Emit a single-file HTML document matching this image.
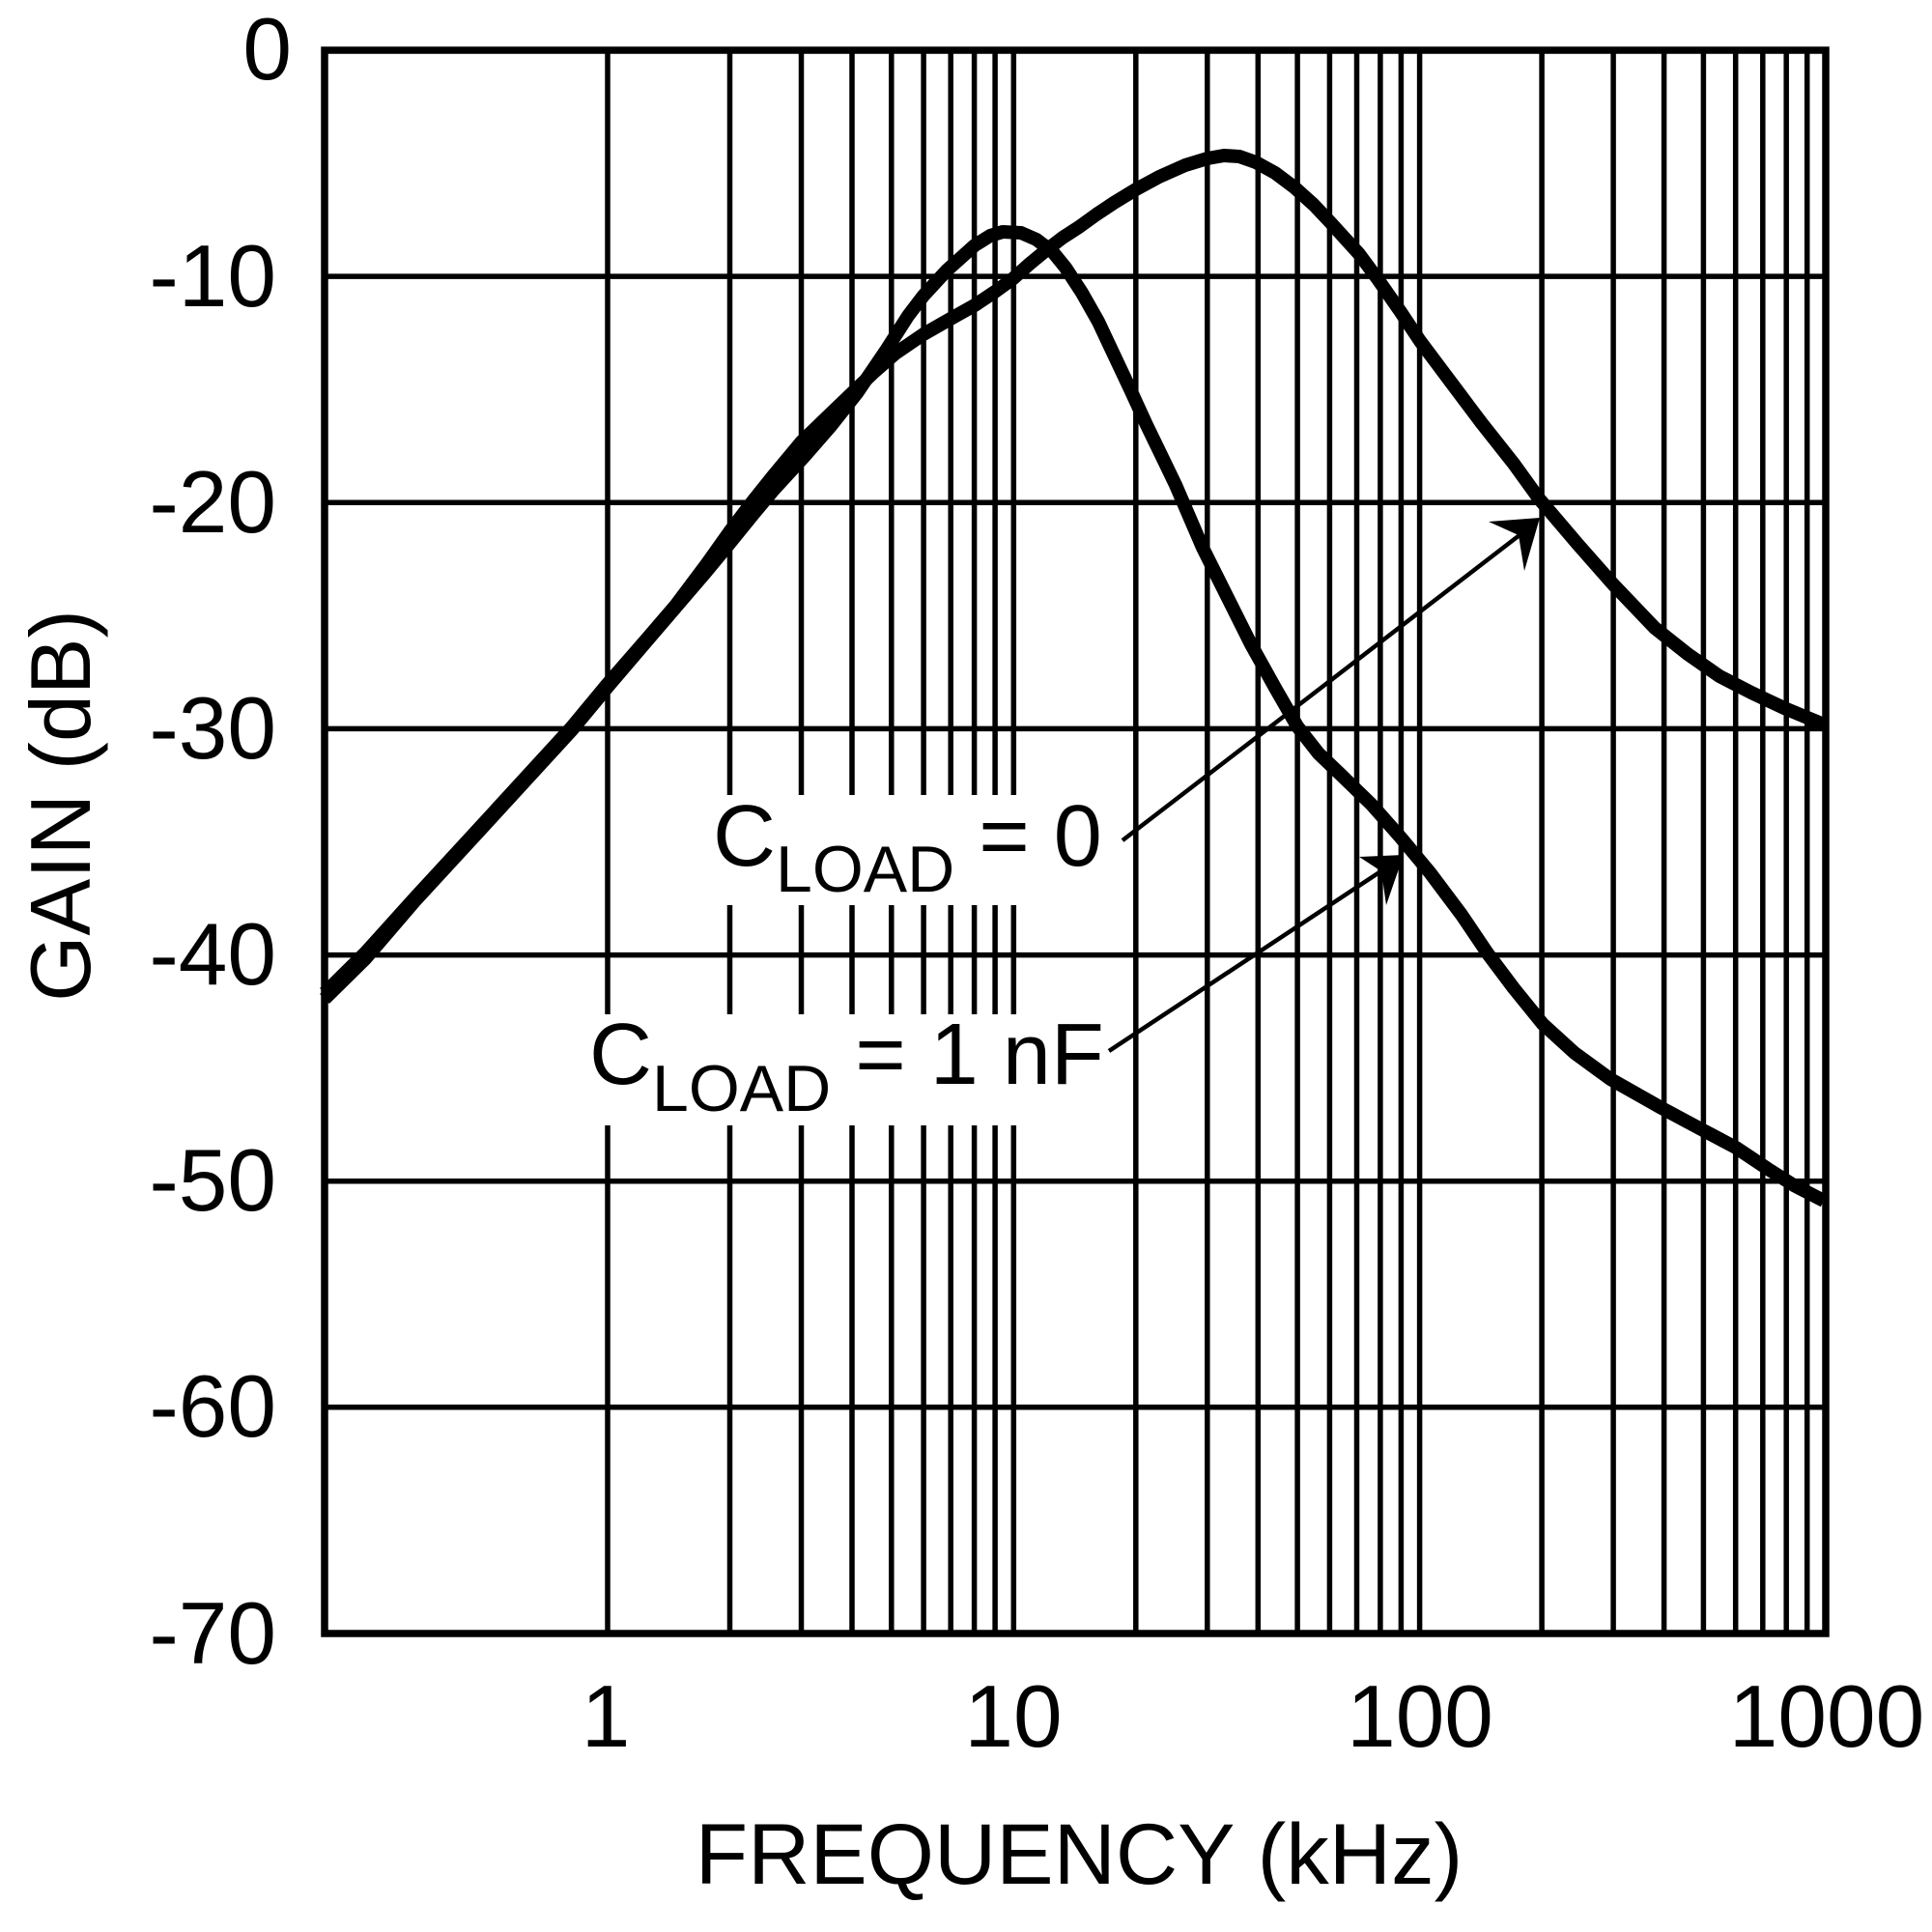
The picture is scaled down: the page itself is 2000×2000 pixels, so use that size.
<!DOCTYPE html>
<html>
<head>
<meta charset="utf-8">
<style>
  html, body { margin: 0; padding: 0; background: #fff; }
  svg { display: block; }
  text { font-family: "Liberation Sans", Arial, sans-serif; fill: #000; }
</style>
</head>
<body>
<svg width="2000" height="2000" viewBox="0 0 2000 2000" xmlns="http://www.w3.org/2000/svg">
  <rect x="0" y="0" width="2000" height="2000" fill="#fff"/>

  <!-- vertical grid lines -->
  <g stroke="#000" stroke-width="5.5">
    <line x1="629" y1="52" x2="629" y2="1691"/>
    <line x1="755.5" y1="52" x2="755.5" y2="1691"/>
    <line x1="829.5" y1="52" x2="829.5" y2="1691"/>
    <line x1="882" y1="52" x2="882" y2="1691"/>
    <line x1="922.8" y1="52" x2="922.8" y2="1691"/>
    <line x1="956.1" y1="52" x2="956.1" y2="1691"/>
    <line x1="984.2" y1="52" x2="984.2" y2="1691"/>
    <line x1="1008.6" y1="52" x2="1008.6" y2="1691"/>
    <line x1="1030.1" y1="52" x2="1030.1" y2="1691"/>
    <line x1="1049.3" y1="52" x2="1049.3" y2="1691"/>
    <line x1="1175.8" y1="52" x2="1175.8" y2="1691"/>
    <line x1="1249.8" y1="52" x2="1249.8" y2="1691"/>
    <line x1="1302.3" y1="52" x2="1302.3" y2="1691"/>
    <line x1="1343.1" y1="52" x2="1343.1" y2="1691"/>
    <line x1="1376.4" y1="52" x2="1376.4" y2="1691"/>
    <line x1="1404.5" y1="52" x2="1404.5" y2="1691"/>
    <line x1="1428.9" y1="52" x2="1428.9" y2="1691"/>
    <line x1="1450.4" y1="52" x2="1450.4" y2="1691"/>
    <line x1="1469.6" y1="52" x2="1469.6" y2="1691"/>
    <line x1="1596.1" y1="52" x2="1596.1" y2="1691"/>
    <line x1="1670.1" y1="52" x2="1670.1" y2="1691"/>
    <line x1="1722.6" y1="52" x2="1722.6" y2="1691"/>
    <line x1="1763.4" y1="52" x2="1763.4" y2="1691"/>
    <line x1="1796.7" y1="52" x2="1796.7" y2="1691"/>
    <line x1="1824.8" y1="52" x2="1824.8" y2="1691"/>
    <line x1="1849.2" y1="52" x2="1849.2" y2="1691"/>
    <line x1="1870.7" y1="52" x2="1870.7" y2="1691"/>
  </g>

  <!-- horizontal grid lines -->
  <g stroke="#000" stroke-width="5.5">
    <line x1="336" y1="286.1" x2="1890" y2="286.1"/>
    <line x1="336" y1="520.3" x2="1890" y2="520.3"/>
    <line x1="336" y1="754.4" x2="1890" y2="754.4"/>
    <line x1="336" y1="988.6" x2="1890" y2="988.6"/>
    <line x1="336" y1="1222.7" x2="1890" y2="1222.7"/>
    <line x1="336" y1="1456.8" x2="1890" y2="1456.8"/>
  </g>

  <!-- frame -->
  <rect x="336" y="52" width="1554" height="1639" fill="none" stroke="#000" stroke-width="7.5"/>

  <!-- Y tick labels -->
  <g font-size="91" text-anchor="end">
    <text x="302" y="82">0</text>
    <text x="286" y="317">-10</text>
    <text x="286" y="551">-20</text>
    <text x="286" y="785">-30</text>
    <text x="286" y="1019">-40</text>
    <text x="286" y="1253">-50</text>
    <text x="286" y="1487">-60</text>
    <text x="286" y="1722">-70</text>
  </g>

  <!-- X tick labels -->
  <g font-size="91" text-anchor="middle">
    <text x="627" y="1808">1</text>
    <text x="1049" y="1808">10</text>
    <text x="1470" y="1808">100</text>
    <text x="1891" y="1808">1000</text>
  </g>

  <!-- axis titles -->
  <text x="1117" y="1950" font-size="89" text-anchor="middle">FREQUENCY (kHz)</text>
  <text transform="translate(93,834) rotate(-90)" font-size="88" text-anchor="middle">GAIN (dB)</text>

  <!-- annotation backgrounds -->
  <rect x="733" y="823" width="412" height="114" fill="#fff"/>
  <rect x="603" y="1050" width="542" height="115" fill="#fff"/>

  <!-- annotations -->
  <text x="738" y="896" font-size="90">C<tspan font-size="68" dy="27">LOAD</tspan><tspan font-size="90" dy="-27"> = 0</tspan></text>
  <text x="610" y="1122" font-size="90">C<tspan font-size="68" dy="28">LOAD</tspan><tspan font-size="90" dy="-28"> = 1 nF</tspan></text>

  <!-- Curve C_LOAD = 0 -->
  <polyline fill="none" stroke="#000" stroke-width="14" stroke-linejoin="round" stroke-linecap="butt"
    points="336,1028 378.6,986 430,929 500,853 591.7,753 629,708 670,661 700,626 730,586 755.6,550 780,518 800,493 830,457 860,428 882,407 905,385 926.7,366 956,346 984,330 1009,316 1030,302 1048,289 1066,273 1083,259 1100,246 1117,235 1135,222 1153,210 1176,196 1200,183 1227,171 1250,164 1267,161 1283,162 1300,168 1320,179 1340,194 1360,212 1377,230 1407,263 1427,290 1450,323 1470,353 1500,393 1533,437 1567,480 1593,516 1633,563 1670,605 1713,650 1747,677 1780,700 1813,717 1847,733 1888,750"/>

  <!-- Curve C_LOAD = 1 nF -->
  <polyline fill="none" stroke="#000" stroke-width="14" stroke-linejoin="round" stroke-linecap="butt"
    points="336,1034 378.6,992 430,932 500,856 591.7,756 629,711 670,663 700,628 730,593 755.6,562 780,532 800,508 833,472 860,441 887,407 917,363 940,327 956,306 980,280 1009,254 1025,244 1038,240 1057,241 1073,248 1090,261 1103,277 1120,303 1137,333 1153,367 1170,403 1187,440 1203,473 1217,502 1245,567 1270,617 1295,667 1320,712 1343,752 1365,780 1387,801 1420,833 1450,867 1480,903 1513,947 1540,987 1567,1023 1597,1060 1630,1090 1667,1117 1720,1147 1763,1170 1797,1188 1830,1210 1857,1227 1888,1243"/>

  <!-- Arrow for C_LOAD = 0 -->
  <line x1="1162" y1="870" x2="1573" y2="554" stroke="#000" stroke-width="4.5"/>
  <polygon points="1594,536 1541,540 1572,554 1578,591" fill="#000"/>

  <!-- Arrow for C_LOAD = 1 nF -->
  <line x1="1148" y1="1088" x2="1431" y2="901" stroke="#000" stroke-width="4.5"/>
  <polygon points="1453,885 1407,887 1430,902 1435,937" fill="#000"/>
</svg>
</body>
</html>
